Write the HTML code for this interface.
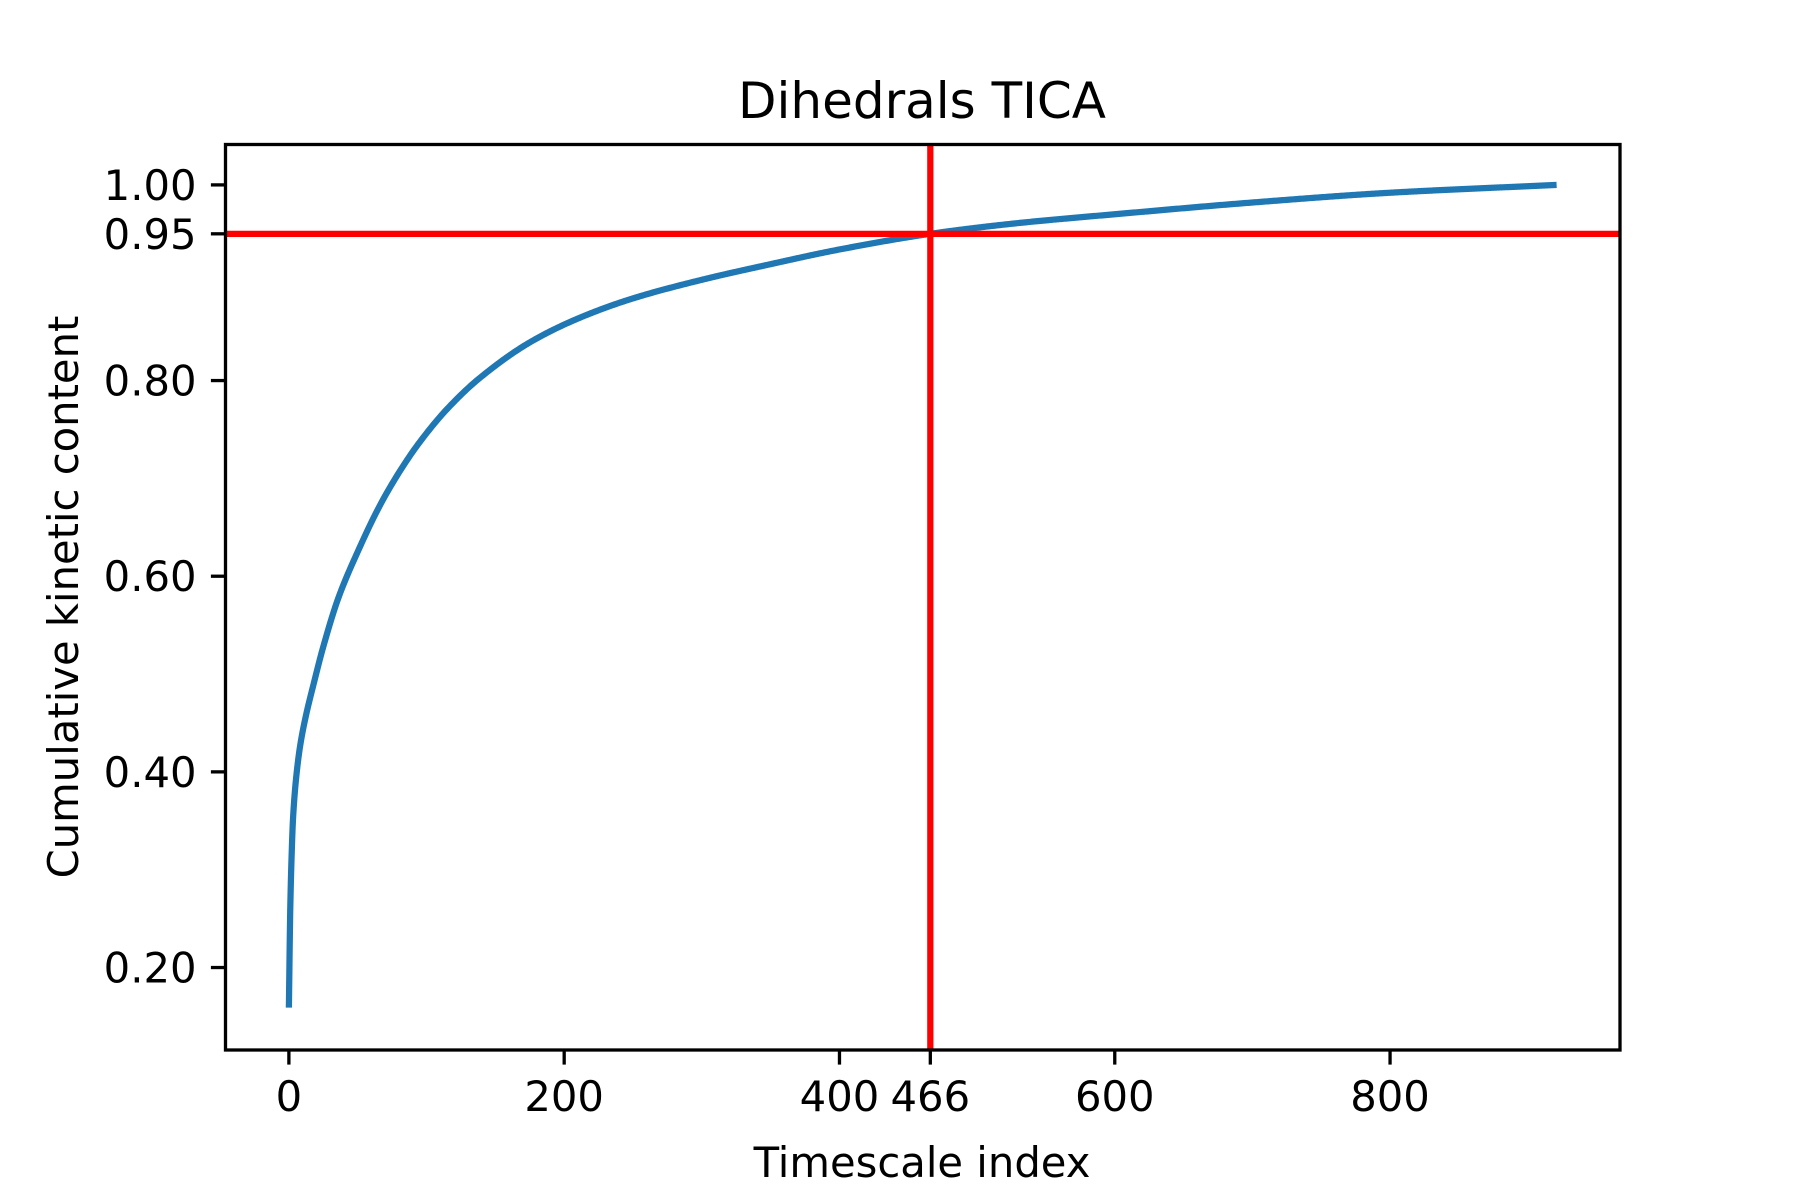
<!DOCTYPE html>
<html><head><meta charset="utf-8"><style>
html,body{margin:0;padding:0;background:#fff}
svg{display:block}
text{font-family:"DejaVu Sans","Liberation Sans",sans-serif;fill:#000}
</style></head><body>
<svg id="chart" width="1800" height="1200" viewBox="0 0 1800 1200" xmlns="http://www.w3.org/2000/svg">
<rect x="0" y="0" width="1800" height="1200" fill="#fff"/>
<text x="922" y="118" font-size="50" text-anchor="middle">Dihedrals TICA</text>
<text x="922" y="1177" font-size="41.7" text-anchor="middle">Timescale index</text>
<text transform="translate(78,597) rotate(-90)" font-size="41.7" text-anchor="middle">Cumulative kinetic content</text>
<g id="plot"></g>
<rect x="225.5" y="144.5" width="1394.5" height="905.5" fill="none" stroke="#000" stroke-width="3.3"/>
</svg>
<script>
const xIdx = [0,1,2,3,5,8,12,18,25,36,50,66,80,95,115,139,175,211,250,300,350,400,466,530,600,700,800,921];
const yVals = [0.159,0.26,0.315,0.352,0.39,0.425,0.455,0.49,0.528,0.578,0.625,0.672,0.706,0.737,0.771,0.803,0.839,0.864,0.884,0.903,0.919,0.934,0.950,0.961,0.970,0.982,0.992,1.0];
const xTicks = [0,200,400,466,600,800];
const yTicks = [0.20,0.40,0.60,0.80,0.95,1.00];
const cutX = [466];
const cutY = [0.95];

const NS = "http://www.w3.org/2000/svg";
const L = 225.5, R = 1620, T = 144.5, B = 1050;
const xMin = -46.05, xMax = 967.05;
const yMin = 0.1157, yMax = 1.0413;
function sx(v){ return L + (v - xMin) / (xMax - xMin) * (R - L); }
function sy(v){ return B - (v - yMin) / (yMax - yMin) * (B - T); }
const plot = document.getElementById('plot');
const svg = document.getElementById('chart');
function mk(tag, attrs, parent){
  const e = document.createElementNS(NS, tag);
  for (const k in attrs) e.setAttribute(k, attrs[k]);
  (parent || plot).appendChild(e);
  return e;
}
function monotone(xs, ys){
  const n = xs.length, d = [], m = [];
  for (let i=0;i<n-1;i++) d.push((ys[i+1]-ys[i])/(xs[i+1]-xs[i]));
  m.push(d[0]);
  for (let i=1;i<n-1;i++) m.push(d[i-1]*d[i]<=0?0:2/(1/d[i-1]+1/d[i]));
  m.push(d[n-2]);
  return function(x){
    let i=0; while(i<n-2 && x>xs[i+1]) i++;
    const h=xs[i+1]-xs[i], t=(x-xs[i])/h;
    const h00=2*t*t*t-3*t*t+1, h10=t*t*t-2*t*t+t, h01=-2*t*t*t+3*t*t, h11=t*t*t-t*t;
    return h00*ys[i]+h10*h*m[i]+h01*ys[i+1]+h11*h*m[i+1];
  };
}
const f = monotone(xIdx, yVals);
const coords = [];
const last = xIdx[xIdx.length-1];
for (let x=0; x<=last; x+= (x<40?0.1:1)) coords.push(sx(x).toFixed(2)+','+sy(f(x)).toFixed(2));
coords.push(sx(last).toFixed(2)+','+sy(yVals[yVals.length-1]).toFixed(2));
const line = mk('polyline', {points: coords.join(' '), fill:'none', stroke:'#1f77b4', 'stroke-width':6.25, 'stroke-linejoin':'round', 'stroke-linecap':'butt'});


cutY.forEach(v=>{
  const h = mk('line', {x1:L, x2:R, y1:sy(v), y2:sy(v), stroke:'#ff0000', 'stroke-width':6.25});
  
  
});
cutX.forEach(v=>{
  const vl = mk('line', {x1:sx(v), x2:sx(v), y1:T, y2:B, stroke:'#ff0000', 'stroke-width':6.25});
  
  
});
xTicks.forEach(v=>{
  const x = sx(v);
  const t = mk('line', {x1:x, x2:x, y1:B, y2:B+14.6, stroke:'#000', 'stroke-width':3.3}, svg);
  
  
  const lb = mk('text', {x:x, y:1111, 'font-size':41.7, 'text-anchor':'middle'}, svg);
  lb.textContent = String(v);
  
  
});
yTicks.forEach(v=>{
  const y = sy(v);
  const t = mk('line', {x1:L-14.6, x2:L, y1:y, y2:y, stroke:'#000', 'stroke-width':3.3}, svg);
  
  
  const lb = mk('text', {x:L-29, y:y+15, 'font-size':41.7, 'text-anchor':'end'}, svg);
  lb.textContent = v.toFixed(2);
  
  
});
</script>
</body></html>
